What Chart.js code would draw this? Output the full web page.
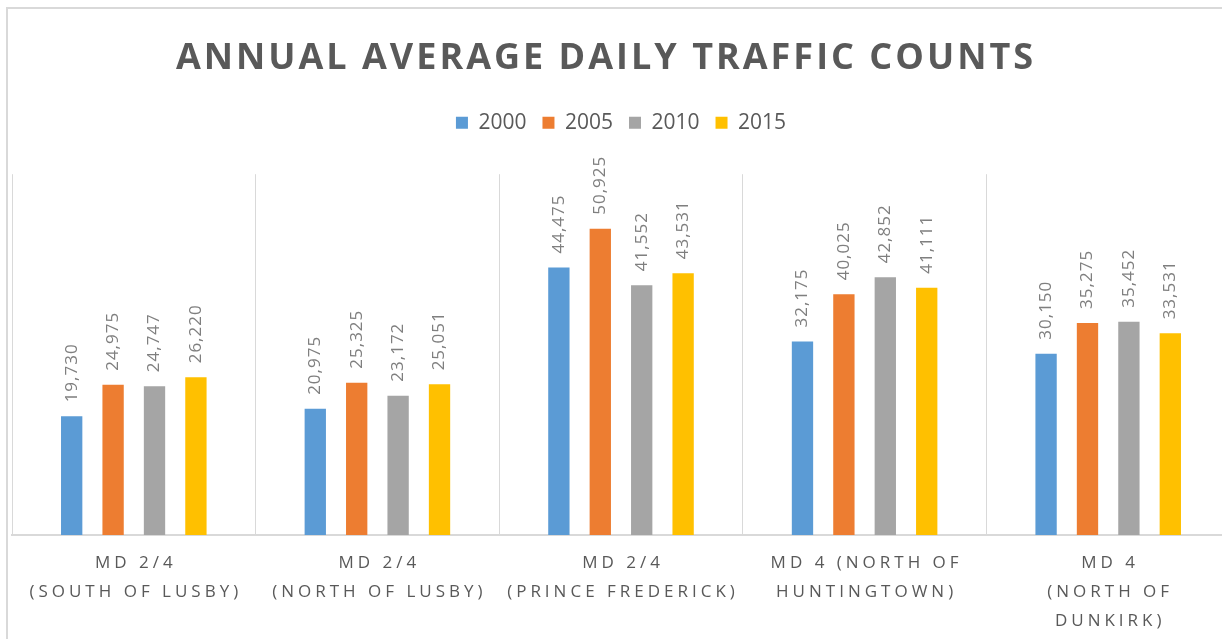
<!doctype html>
<html lang="en">
<head>
  <meta charset="utf-8">
  <title>Annual Average Daily Traffic Counts</title>
  <script src="https://cdn.jsdelivr.net/npm/chart.js"></script>
  <style>
    html, body {
      margin: 0;
      padding: 0;
      background: #ffffff;
      width: 1222px;
      height: 639px;
      overflow: hidden;
    }
    .frame {
      position: absolute;
      left: 6px;
      top: 7px;
      border-left: 2px solid #d9d9d9;
      border-top: 2px solid #d9d9d9;
    }
    .box {
      position: relative;
      width: 1222px;
      height: 630px;
    }
  </style>
</head>
<body>
  <div class="frame">
    <div class="box"><canvas id="trafficChart"></canvas></div>
  </div>
  <script>
    // chart data
    var locations = [
      ['MD 2/4', '(SOUTH OF LUSBY)'],
      ['MD 2/4', '(NORTH OF LUSBY)'],
      ['MD 2/4', '(PRINCE FREDERICK)'],
      ['MD 4 (NORTH OF', 'HUNTINGTOWN)'],
      ['MD 4', '(NORTH OF', 'DUNKIRK)']
    ];
    var years = ['2000', '2005', '2010', '2015'];
    var counts2000 = [19730, 20975, 44475, 32175, 30150];
    var counts2005 = [24975, 25325, 50925, 40025, 35275];
    var counts2010 = [24747, 23172, 41552, 42852, 35452];
    var counts2015 = [26220, 25051, 43531, 41111, 33531];
    var yMax = 60000;

    var colors = ['#5b9bd5', '#ed7d31', '#a5a5a5', '#ffc000'];
    var series = [counts2000, counts2005, counts2010, counts2015];

    var textGray = '#595959';
    var lineGray = '#d9d9d9';

    // rotated value labels above each bar
    var barLabels = {
      id: 'barLabels',
      afterDatasetsDraw: function(chart) {
        var ctx = chart.ctx;
        ctx.save();
        ctx.font = '17px "Open Sans"';
        ctx.fillStyle = '#7f7f7f';
        ctx.letterSpacing = '1px';
        ctx.textAlign = 'left';
        ctx.textBaseline = 'middle';
        chart.data.datasets.forEach(function(ds, i) {
          var meta = chart.getDatasetMeta(i);
          meta.data.forEach(function(bar, j) {
            ctx.save();
            ctx.translate(bar.x, bar.y - 14);
            ctx.rotate(-Math.PI / 2);
            ctx.fillText(ds.data[j].toLocaleString('en-US'), 0, 0);
            ctx.restore();
          });
        });
        ctx.restore();
      }
    };

    var datasets = years.map(function(y, i) {
      return {
        label: y,
        data: series[i],
        backgroundColor: colors[i],
        categoryPercentage: 0.68,
        barPercentage: 0.515
      };
    });

    var chart = new Chart(document.getElementById('trafficChart'), {
      type: 'bar',
      data: { labels: locations, datasets: datasets },
      plugins: [barLabels],
      options: {
        responsive: true,
        maintainAspectRatio: false,
        animation: false,
        layout: { padding: { left: 4, right: 0, top: 0, bottom: 0 } },
        plugins: {
          tooltip: { enabled: false },
          title: {
            display: true,
            text: 'ANNUAL AVERAGE DAILY TRAFFIC COUNTS',
            color: textGray,
            font: { family: '"Open Sans"', size: 36, weight: 'bold', lineHeight: 1.2 },
            padding: { top: 28, bottom: 16 }
          },
          legend: {
            position: 'top',
            labels: {
              boxWidth: 12,
              boxHeight: 12,
              padding: 16,
              color: textGray,
              font: { family: '"Open Sans"', size: 21 }
            }
          },
          // empty spacer between legend and plot
          subtitle: {
            display: true,
            text: '',
            weight: 500,
            font: { size: 1, lineHeight: 1 },
            padding: { top: 0, bottom: 30 }
          }
        },
        scales: {
          x: {
            grid: { display: true, color: lineGray, lineWidth: 1, drawTicks: false, offset: true },
            border: { display: true, color: lineGray, width: 2 },
            ticks: {
              color: textGray,
              padding: 14,
              maxRotation: 0,
              autoSkip: false,
              font: { family: '"Open Sans"', size: 17, lineHeight: 29 / 17 }
            },
            afterFit: function(scale) { scale.height = 104; }
          },
          y: {
            display: false,
            min: 0,
            max: yMax
          }
        }
      }
    });

    // letter spacing (and a small nudge) for the title and the category labels
    function spaced(obj, name, px, dx) {
      var orig = obj[name];
      obj[name] = function() {
        var c = this.ctx || chart.ctx;
        c.save();
        c.letterSpacing = px;
        c.translate(dx, 0);
        orig.apply(this, arguments);
        c.restore();
      };
    }
    spaced(chart.titleBlock, 'draw', '3px', -15);
    spaced(chart.scales.x, 'drawLabels', '4px', 2);
    chart.draw();
  </script>
</body>
</html>
